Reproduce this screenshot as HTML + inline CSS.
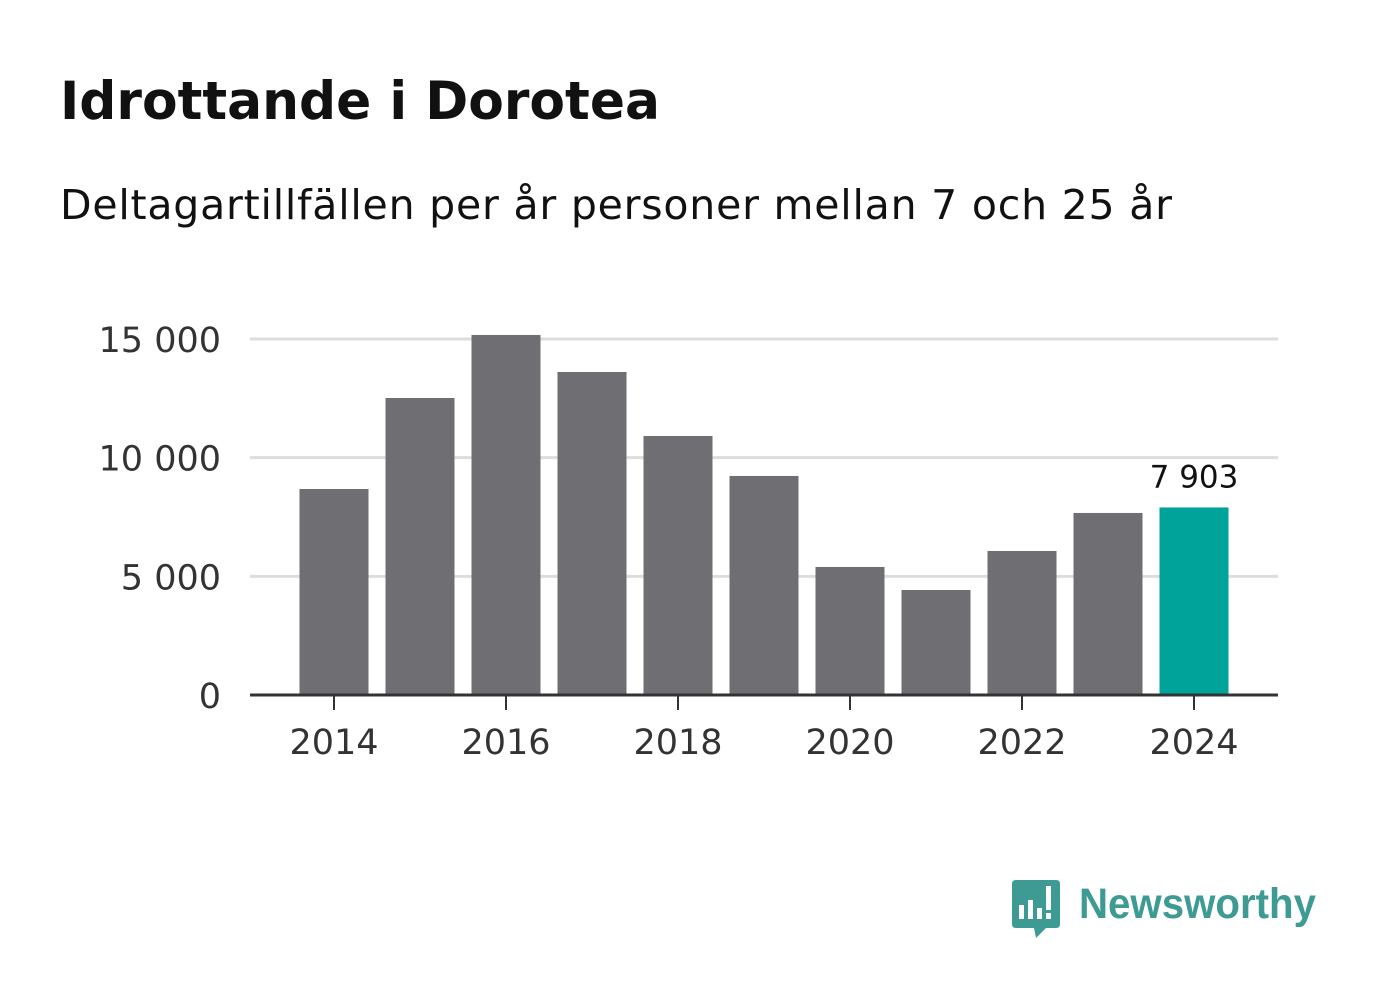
<!DOCTYPE html>
<html><head><meta charset="utf-8"><style>
body{margin:0;background:#fff;width:1382px;height:999px;overflow:hidden;font-family:"DejaVu Sans","Liberation Sans",sans-serif}
</style></head><body>
<svg width="1382" height="999" xmlns="http://www.w3.org/2000/svg">
<text x="60" y="119" font-size="53" font-weight="bold" fill="#111" font-family="DejaVu Sans, sans-serif" textLength="600" lengthAdjust="spacingAndGlyphs">Idrottande i Dorotea</text>
<text x="60" y="219" font-size="41" fill="#111" font-family="DejaVu Sans, sans-serif" textLength="1112">Deltagartillfällen per år personer mellan 7 och 25 år</text>
<g id="grid"></g>
<g id="yt"></g>
<g id="bars"></g>
<g id="xt"></g>
<line x1="250" x2="1278" y1="695" y2="695" stroke="#333" stroke-width="3"/>
<g>
<path d="M1016 880 H1056 Q1060 880 1060 884 V924 Q1060 928 1056 928 H1046 L1036 938 L1034 928 H1016 Q1012 928 1012 924 V884 Q1012 880 1016 880Z" fill="#3e9b94"/>
<rect x="1019" y="905" width="5" height="14" fill="#fff"/><rect x="1028" y="900" width="5" height="19" fill="#fff"/><rect x="1037" y="908" width="5" height="11" fill="#fff"/><rect x="1046" y="886" width="5" height="24" fill="#fff"/><rect x="1046" y="913" width="5" height="6" fill="#fff"/>
<text x="1079" y="918" font-size="43" font-weight="bold" fill="#3e9b94" font-family="Liberation Sans, sans-serif" textLength="237" lengthAdjust="spacingAndGlyphs">Newsworthy</text>
</g>
</svg>
<script>
const years=[2014,2015,2016,2017,2018,2019,2020,2021,2022,2023,2024];
const values=[8680,12515,15170,13610,10914,9229,5394,4425,6068,7670,7903];
const yTicks=[0,5000,10000,15000];
const yTickLabels=["0","5 000","10 000","15 000"];
const xTicks=[2014,2016,2018,2020,2022,2024];
const highlightLabel="7 903";
const NS="http://www.w3.org/2000/svg";
const y=v=>695-v*356/15000;
const x=yr=>334+(yr-2014)*86;
function mk(t,a,p,txt){const e=document.createElementNS(NS,t);for(const k in a)e.setAttribute(k,a[k]);if(txt!=null)e.textContent=txt;document.getElementById(p).appendChild(e);return e;}
yTicks.forEach((v,i)=>{
 if(v>0){const g=mk('line',{x1:250,x2:1278,y1:y(v),y2:y(v),stroke:'#ddd','stroke-width':3},'grid');
 
 }
 const t=mk('text',{x:221,y:y(v)+13,'text-anchor':'end','font-size':35,fill:'#333'},'yt',yTickLabels[i]);
 
 
});
years.forEach((yr,i)=>{
 const last=i===years.length-1;
 const r=mk('rect',{x:x(yr)-34.5,y:y(values[i]),width:69,height:695-y(values[i]),fill:last?'#00a399':'#6f6e73'},'bars');
 
 
 if(last){const t=mk('text',{x:x(yr),y:y(values[i])-20,'text-anchor':'middle','font-size':31,fill:'#111'},'bars',highlightLabel);
 
 }
});
xTicks.forEach(yr=>{
 const l=mk('line',{x1:x(yr),x2:x(yr),y1:695,y2:710,stroke:'#333','stroke-width':2},'xt');
 
 
 const t=mk('text',{x:x(yr),y:754,'text-anchor':'middle','font-size':35,fill:'#333'},'xt',String(yr));
 
 
});
</script>
</body></html>
